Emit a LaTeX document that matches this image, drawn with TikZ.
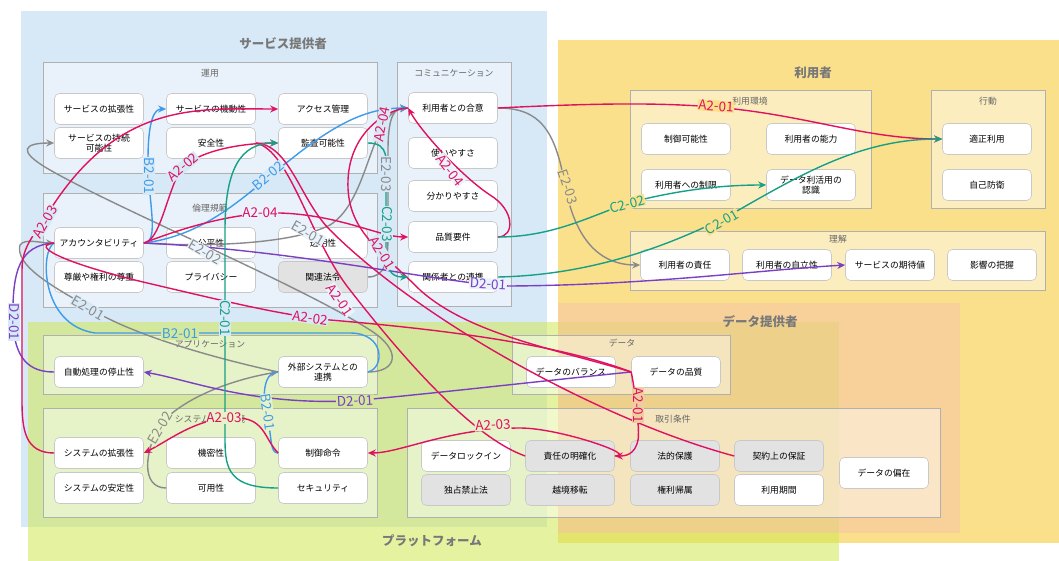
\documentclass[tikz,border=0pt]{standalone}
\usepackage{fontspec}
\setmainfont{Noto Sans CJK JP}
\usetikzlibrary{arrows.meta}
\definecolor{bgBlue}{RGB}{215,232,247}
\definecolor{bgYellow}{RGB}{251,224,140}
\definecolor{bgLime}{RGB}{208,233,82}
\definecolor{bgPeach}{RGB}{246,195,165}
\definecolor{grpBlue}{RGB}{233,243,251}
\definecolor{limeBlue}{RGB}{211,232,156}
\definecolor{grpLime}{RGB}{231,242,201}
\definecolor{grpPeach}{RGB}{240,205,160}
\definecolor{boxline}{RGB}{200,200,200}
\definecolor{grpline}{RGB}{176,176,176}
\definecolor{graybox}{RGB}{226,226,226}
\definecolor{ttl}{RGB}{120,120,120}
\definecolor{cA}{HTML}{E0115F}
\definecolor{cB}{HTML}{3D9BE9}
\definecolor{cC}{HTML}{16A085}
\definecolor{cD}{HTML}{7B3FC4}
\definecolor{cE}{HTML}{8A8A8A}
\begin{document}
\begin{tikzpicture}[x=1pt,y=-1pt,
  box/.style={draw=boxline, fill=white, rounded corners=5pt, minimum width=89pt, minimum height=31pt, inner sep=1pt, font=\fontsize{8.8}{10.5}\selectfont, align=center, line width=0.6pt},
  gbox/.style={box, fill=graybox},
  grp/.style={draw=grpline, fill=white, fill opacity=0.45, draw opacity=1, line width=0.8pt},
  grplabel/.style={font=\fontsize{8.8}{10}\selectfont, text=black!60},
  region/.style={font=\bfseries\fontsize{12.5}{14}\selectfont, text=ttl},
  conn/.style={line width=1.4pt},
  arr/.style={-{Stealth[length=8pt,width=7pt]}},
  lab/.style={font=\fontsize{13.5}{15}\selectfont, inner sep=0.6pt},
  eA/.style={conn, draw=cA}, eB/.style={conn, draw=cB}, eC/.style={conn, draw=cC},
  eD/.style={conn, draw=cD}, eE/.style={conn, draw=cE}]
\useasboundingbox (0,0) rectangle (1059,561);
% regions
\fill[bgBlue] (21,11) rectangle (547,527);
\fill[bgYellow] (558,40) rectangle (1059,543);
\fill[bgLime, opacity=0.55] (28,322) rectangle (839,561);
\fill[bgPeach, opacity=0.55] (558,303) rectangle (960,533);
\node[region] (rg1) at (283,44) {サービス提供者};
\node[region] (rg2) at (813,73) {利用者};
\node[region] (rg3) at (760,322) {データ提供者};
\node[region] (rg4) at (432,541) {プラットフォーム};
% groups
\draw[grp] (43,62) rectangle (377,173);
\draw[grp] (397,62) rectangle (511,306);
\draw[grp] (43,193) rectangle (377,307);
\draw[grp] (630,90) rectangle (871,208);
\draw[grp] (931,90) rectangle (1045,208);
\draw[grp] (630,231) rectangle (1045,290);
\draw[grp] (43,335) rectangle (377,394);
\draw[grp] (43,408) rectangle (377,517);
\draw[grp] (512,335) rectangle (730,394);
\draw[grp] (407,408) rectangle (940,517);
\node[grplabel] (g1) at (210,73) {運用};
\node[grplabel] (g2) at (454,73) {コミュニケーション};
\node[grplabel] (g3) at (210,208) {倫理規範};
\node[grplabel] (g4) at (750,101) {利用環境};
\node[grplabel] (g5) at (988,101) {行動};
\node[grplabel] (g6) at (838,239) {理解};
\node[grplabel] (g7) at (210,344) {アプリケーション};
\node[grplabel] (g8) at (210,419) {システム実行環境};
\node[grplabel] (g9) at (622,343) {データ};
\node[grplabel] (g10) at (673,419) {取引条件};
% nodes
\node[box] (s1) at (99,109) {サービスの拡張性};
\node[box] (s2) at (99,143) {サービスの持続\\可能性};
\node[box] (s3) at (211,109) {サービスの機動性};
\node[box] (s4) at (211,143) {安全性};
\node[box] (s5) at (323,109) {アクセス管理};
\node[box] (s6) at (323,143) {監査可能性};
\node[box] (c1) at (453,108) {利用者との合意};
\node[box] (c2) at (453,153) {使いやすさ};
\node[box] (c3) at (453,196) {分かりやすさ};
\node[box] (c4) at (453,237) {品質要件};
\node[box] (c5) at (453,277) {関係者との連携};
\node[box] (e1) at (99,243) {アカウンタビリティ};
\node[box] (e2) at (211,243) {公平性};
\node[box] (e3) at (323,243) {透明性};
\node[box] (e4) at (99,277) {尊厳や権利の尊重};
\node[box] (e5) at (211,277) {プライバシー};
\node[gbox] (e6) at (323,277) {関連法令};
\node[box] (a1) at (99,372) {自動処理の停止性};
\node[box] (a2) at (323,372) {外部システムとの\\連携};
\node[box] (y1) at (99,453) {システムの拡張性};
\node[box] (y2) at (99,488) {システムの安定性};
\node[box] (y3) at (211,453) {機密性};
\node[box] (y4) at (211,488) {可用性};
\node[box] (y5) at (323,453) {制御命令};
\node[box] (y6) at (323,488) {セキュリティ};
\node[box] (d1) at (571,372) {データのバランス};
\node[box] (d2) at (676,372) {データの品質};
\node[box] (t1) at (466,456) {データロックイン};
\node[gbox] (t2) at (466,490) {独占禁止法};
\node[gbox] (t3) at (570,456) {責任の明確化};
\node[gbox] (t4) at (570,490) {越境移転};
\node[gbox] (t5) at (675,456) {法的保護};
\node[gbox] (t6) at (675,490) {権利帰属};
\node[gbox] (t7) at (779,456) {契約上の保証};
\node[box] (t8) at (779,490) {利用期間};
\node[box] (t9) at (884,473) {データの偏在};
\node[box] (u1) at (686,139) {制御可能性};
\node[box] (u2) at (811,139) {利用者の能力};
\node[box] (u3) at (686,185) {利用者への制限};
\node[box] (u4) at (811,185) {データ利活用の\\認識};
\node[box] (b1) at (987,139) {適正利用};
\node[box] (b2) at (987,185) {自己防衛};
\node[box] (r1) at (685,265) {利用者の責任};
\node[box] (r2) at (787,265) {利用者の自立性};
\node[box] (r3) at (890,265) {サービスの期待値};
\node[box] (r4) at (992,265) {影響の把握};
% ---- edges: gray
\draw[eE, arr] (e1.east) .. controls (200,247) and (290,245) .. (330,225) .. controls (370,200) and (370,112) .. (c1.west);
\draw[eE, arr] (e6.east) .. controls (385,277) and (388,262) .. (388,235) -- (388,150) .. controls (388,115) and (395,108) .. (c1.west);
\draw[eE, arr] (c1.east) .. controls (540,108) and (555,130) .. (565,185) .. controls (575,240) and (600,265) .. (r1.west);
\draw[eE, arr] (a2.east) .. controls (398,372) and (402,350) .. (370,330) .. controls (300,285) and (120,210) .. (50,170) .. controls (15,150) and (25,143) .. (s2.west);
\draw[eE, arr] (a2.west) .. controls (200,355) and (120,330) .. (85,305) .. controls (50,285) and (15,265) .. (20,245) .. controls (25,238) and (40,243) .. (e1.west);
\draw[eE, arr] (y4.west) .. controls (140,488) and (145,450) .. (160,425) .. controls (185,395) and (240,378) .. (a2.west);
% ---- blue
\draw[eB, arr] (e1.east) .. controls (160,243) and (148,200) .. (148,160) .. controls (148,118) and (155,109) .. (s3.west);
\draw[eB, arr] (e1.east) .. controls (210,235) and (250,190) .. (290,160) .. controls (340,120) and (370,108) .. (c1.west);
\draw[eB] (e1.west) .. controls (40,250) and (40,325) .. (95,333) -- (350,333) .. controls (385,333) and (385,368) .. (a2.east);
\draw[eB] (a2.west) .. controls (262,372) and (262,400) .. (268,420) .. controls (272,440) and (270,453) .. (y5.west);
% ---- purple
\draw[eD, arr] (e1.east) .. controls (300,250) and (450,285) .. (510,286) .. controls (650,285) and (760,270) .. (r3.west);
\draw[eD] (e1.west) .. controls (20,245) and (12,270) .. (13,320) .. controls (14,360) and (30,372) .. (a1.west);
\draw[eD, arr] (d2.west) .. controls (550,380) and (420,395) .. (350,401) .. controls (250,405) and (190,380) .. (a1.east);
% ---- red
\draw[eA, arr] (c1.east) .. controls (600,103) and (650,103) .. (700,106) .. controls (800,112) and (860,139) .. (b1.west);
\draw[eA, arr] (y1.west) .. controls (25,453) and (22,430) .. (22,400) -- (22,270) .. controls (22,245) and (35,235) .. (50,210) .. controls (120,100) and (200,109) .. (s5.west);
\draw[eA, arr] (e1.east) .. controls (160,240) and (165,200) .. (180,170) .. controls (200,148) and (250,143) .. (s6.west);
\draw[eA, arr] (e1.east) .. controls (190,225) and (240,212) .. (280,213) .. controls (340,215) and (380,237) .. (c4.west);
\draw[eA] (e1.west) .. controls (30,245) and (60,262) .. (143,282) .. controls (220,300) and (280,315) .. (330,320) .. controls (450,330) and (560,345) .. (d2.west);
\draw[eA, arr] (y5.west) .. controls (265,440) and (265,420) .. (240,418) .. controls (200,415) and (170,440) .. (y1.east);
\draw[eA, arr] (t3.east) .. controls (640,456) and (560,428) .. (520,428) .. controls (450,428) and (400,453) .. (y5.east);
\draw[eA, arr] (d2.west) .. controls (635,390) and (640,430) .. (638,440) .. controls (635,455) and (625,456) .. (t3.east);
\draw[eA] (s4.east) .. controls (290,150) and (310,240) .. (350,290) .. controls (420,380) and (480,440) .. (t3.west);
\draw[eA] (s4.east) .. controls (290,145) and (300,200) .. (330,230) .. controls (420,320) and (600,420) .. (t7.west);
\draw[eA] (c1.west) .. controls (390,108) and (350,130) .. (348,180) .. controls (346,230) and (380,250) .. (420,290) .. controls (470,335) and (560,350) .. (d2.west);
\draw[eA, arr] (c4.east) .. controls (515,237) and (515,210) .. (490,195) .. controls (460,175) and (420,130) .. (c1.west);
% ---- teal (on top)
\draw[eC, arr] (y6.west) .. controls (230,488) and (225,470) .. (225,440) -- (225,230) .. controls (225,170) and (240,143) .. (s6.west);
\draw[eC, arr] (s6.east) .. controls (390,143) and (386,160) .. (386,180) -- (386,250) .. controls (386,275) and (395,277) .. (c5.west);
\draw[eC, arr] (c4.east) .. controls (560,237) and (600,210) .. (640,200) .. controls (690,188) and (730,185) .. (u4.west);
\draw[eC, arr] (c5.east) .. controls (600,275) and (680,240) .. (730,215) .. controls (800,175) and (860,139) .. (b1.west);
% ---- labels
\node[lab, text=cA, fill=bgYellow, rotate=-4] (l1) at (716,106) {A2-01};
\node[lab, text=cA, fill=bgBlue, rotate=60] (l2) at (45,222) {A2-03};
\node[lab, text=cA, fill=bgBlue, rotate=40] (l3) at (183,167) {A2-02};
\node[lab, text=cA, fill=grpBlue] (l4) at (260,213) {A2-04};
\node[lab, text=cA, fill=bgBlue, rotate=-8] (l5) at (310,318) {A2-02};
\node[lab, text=cA, fill=grpLime] (l6) at (224,418) {A2-03};
\node[lab, text=cA, fill=grpLime, rotate=3] (l7) at (493,425) {A2-03};
\node[lab, text=cA, fill=grpPeach, rotate=-90] (l8) at (638,405) {A2-01};
\node[lab, text=cA, fill=grpBlue, rotate=-55] (l9) at (340,300) {A2-01};
\node[lab, text=cA, fill=bgBlue, rotate=-58] (l10) at (382,253) {A2-01};
\node[lab, text=cA, fill=grpBlue, rotate=-52] (l11) at (450,170) {A2-04};
\node[lab, text=cA, fill=bgBlue, rotate=78] (l29) at (382,124) {A2-04};
\node[lab, text=cB, fill=bgBlue, rotate=-90] (l12) at (149,176) {B2-01};
\node[lab, text=cB, fill=bgBlue, rotate=40] (l13) at (268,176) {B2-02};
\node[lab, text=cB, fill=limeBlue] (l14) at (180,334) {B2-01};
\node[lab, text=cB, fill=grpLime, rotate=-82] (l15) at (268,412) {B2-01};
\node[lab, text=cC, fill=bgBlue, rotate=-90] (l16) at (225,318) {C2-01};
\node[lab, text=cC, fill=bgBlue, rotate=-90] (l17) at (387,224) {C2-03};
\node[lab, text=cC, fill=bgYellow, rotate=15] (l18) at (627,204) {C2-02};
\node[lab, text=cC, fill=bgYellow, rotate=30] (l19) at (722,222) {C2-01};
\node[lab, text=cD, fill=bgBlue, rotate=-90] (l20) at (14,322) {D2-01};
\node[lab, text=cD, fill=grpBlue, rotate=-3] (l21) at (488,284) {D2-01};
\node[lab, text=cD, fill=limeBlue, rotate=3] (l22) at (355,401) {D2-01};
\node[lab, text=cE, fill=grpBlue, rotate=-30] (l23) at (308,233) {E2-01};
\node[lab, text=cE, fill=bgBlue, rotate=-90] (l24) at (386,174) {E2-03};
\node[lab, text=cE, fill=bgYellow, rotate=-72] (l25) at (568,187) {E2-03};
\node[lab, text=cE, fill=grpBlue, rotate=-30] (l26) at (205,252) {E2-02};
\node[lab, text=cE, fill=bgBlue, rotate=-30] (l27) at (88,308) {E2-01};
\node[lab, text=cE, fill=grpLime, rotate=60] (l28) at (160,428) {E2-02};
\end{tikzpicture}
\end{document}
